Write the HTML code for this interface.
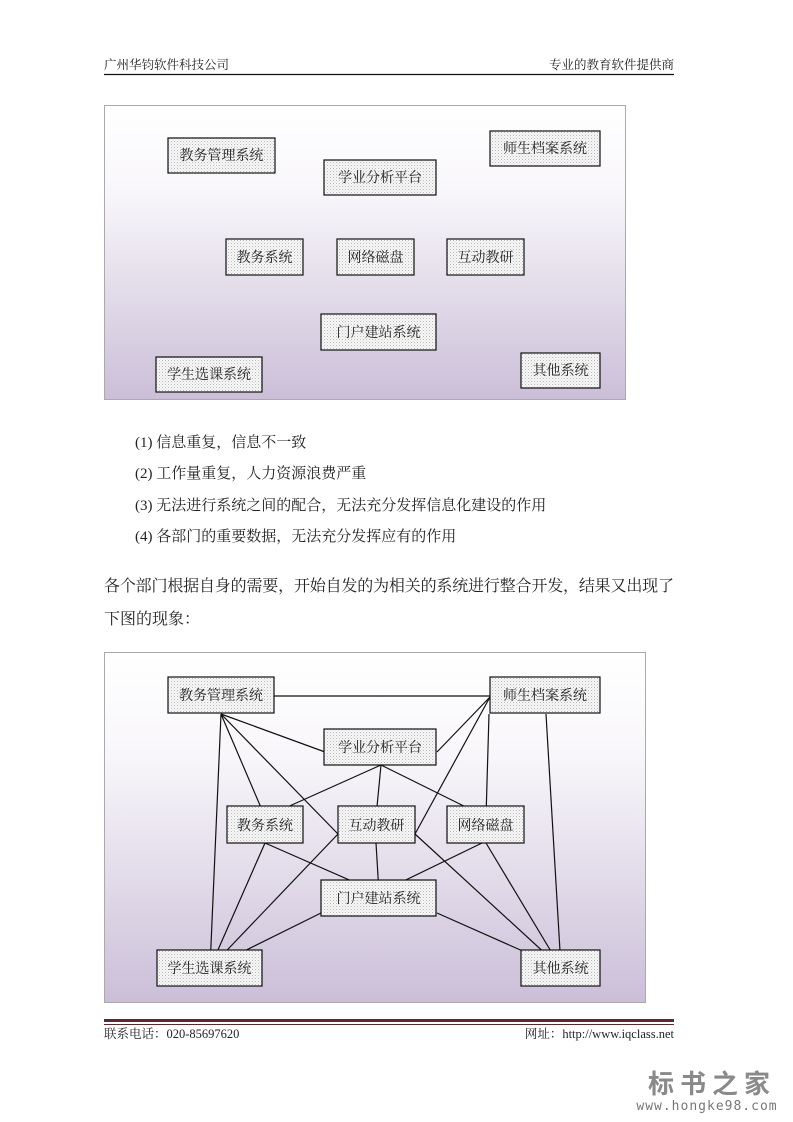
<!DOCTYPE html>
<html><head><meta charset="utf-8">
<style>
html,body{margin:0;padding:0;background:#fff;}
svg{display:block;}
text{font-family:"Liberation Serif","Noto Serif CJK SC","Noto Sans CJK SC",serif;fill:#222;}
</style></head><body>
<svg width="793" height="1122" viewBox="0 0 793 1122" xmlns="http://www.w3.org/2000/svg">
<defs>
<linearGradient id="bg" x1="0" y1="0" x2="0" y2="1">
<stop offset="0" stop-color="#ffffff"/>
<stop offset="0.3" stop-color="#f8f6fa"/>
<stop offset="1" stop-color="#cbbfd8"/>
</linearGradient>
<pattern id="dots" width="3" height="3" patternUnits="userSpaceOnUse">
<rect width="3" height="3" fill="#f8f8f8"/>
<rect x="0" y="0" width="1" height="1" fill="#b8b8b8"/>
<rect x="1.5" y="1.5" width="1" height="1" fill="#cfcfcf"/>
</pattern>
</defs>

<!-- header -->
<text x="104" y="69" font-size="12.5">广州华钧软件科技公司</text>
<text x="674" y="69" font-size="12.5" text-anchor="end">专业的教育软件提供商</text>
<line x1="104" y1="74.5" x2="674" y2="74.5" stroke="#111" stroke-width="1.2"/>

<!-- diagram 1 -->
<rect x="104.5" y="105.5" width="521" height="294" fill="url(#bg)" stroke="#aaa"/>
<g stroke="#111" stroke-width="1.2" fill="url(#dots)">
<rect x="168" y="138" width="107" height="35"/>
<rect x="324" y="160" width="112" height="35"/>
<rect x="490" y="131" width="110" height="35"/>
<rect x="226" y="239" width="77" height="36"/>
<rect x="337" y="239" width="77" height="36"/>
<rect x="447" y="239" width="77" height="36"/>
<rect x="321" y="314" width="115" height="36"/>
<rect x="156" y="357" width="106" height="35"/>
<rect x="521" y="353" width="79" height="35"/>
</g>
<g font-size="14" text-anchor="middle">
<text x="221.5" y="160">教务管理系统</text>
<text x="380" y="182">学业分析平台</text>
<text x="545" y="153">师生档案系统</text>
<text x="264.5" y="262">教务系统</text>
<text x="375.5" y="262">网络磁盘</text>
<text x="485.5" y="262">互动教研</text>
<text x="378.5" y="337">门户建站系统</text>
<text x="209" y="379">学生选课系统</text>
<text x="560.5" y="375">其他系统</text>
</g>

<!-- list -->
<g font-size="15">
<text x="135" y="447">(1) 信息重复，信息不一致</text>
<text x="135" y="478">(2) 工作量重复，人力资源浪费严重</text>
<text x="135" y="510">(3) 无法进行系统之间的配合，无法充分发挥信息化建设的作用</text>
<text x="135" y="541">(4) 各部门的重要数据，无法充分发挥应有的作用</text>
</g>
<g font-size="16">
<text x="104" y="591" textLength="570">各个部门根据自身的需要，开始自发的为相关的系统进行整合开发，结果又出现了</text>
<text x="104" y="624">下图的现象：</text>
</g>

<!-- diagram 2 -->
<rect x="104.5" y="652.5" width="541" height="350" fill="url(#bg)" stroke="#aaa"/>
<g stroke="#111" stroke-width="1.2">
<line x1="274" y1="696" x2="490" y2="696"/>
<line x1="221" y1="714" x2="325" y2="752"/>
<line x1="221" y1="714" x2="265" y2="817"/>
<line x1="221" y1="714" x2="338" y2="834"/>
<line x1="221" y1="714" x2="210" y2="968"/>
<line x1="490" y1="697" x2="437" y2="752"/>
<line x1="490" y1="697" x2="415" y2="834"/>
<line x1="489" y1="714" x2="486" y2="817"/>
<line x1="546" y1="714" x2="561" y2="968"/>
<line x1="381" y1="765" x2="265" y2="817"/>
<line x1="381" y1="765" x2="376" y2="817"/>
<line x1="381" y1="765" x2="486" y2="817"/>
<line x1="265" y1="843" x2="210" y2="968"/>
<line x1="265" y1="843" x2="379" y2="893"/>
<line x1="376" y1="843" x2="379" y2="893"/>
<line x1="338" y1="834" x2="210" y2="968"/>
<line x1="415" y1="834" x2="561" y2="968"/>
<line x1="482" y1="843" x2="379" y2="893"/>
<line x1="486" y1="843" x2="561" y2="968"/>
<line x1="321" y1="913" x2="210" y2="968"/>
<line x1="437" y1="913" x2="561" y2="968"/>
</g>
<g stroke="#111" stroke-width="1.2" fill="url(#dots)">
<rect x="168" y="677" width="106" height="36"/>
<rect x="490" y="677" width="110" height="36"/>
<rect x="324" y="729" width="112" height="36"/>
<rect x="227" y="806" width="76" height="37"/>
<rect x="338" y="806" width="77" height="37"/>
<rect x="447" y="806" width="77" height="37"/>
<rect x="321" y="880" width="115" height="36"/>
<rect x="157" y="950" width="105" height="36"/>
<rect x="521" y="950" width="79" height="36"/>
</g>
<g font-size="14" text-anchor="middle">
<text x="221" y="700">教务管理系统</text>
<text x="545" y="700">师生档案系统</text>
<text x="380" y="752">学业分析平台</text>
<text x="265" y="830">教务系统</text>
<text x="376.5" y="830">互动教研</text>
<text x="485.5" y="830">网络磁盘</text>
<text x="378.5" y="903">门户建站系统</text>
<text x="209.5" y="973">学生选课系统</text>
<text x="560.5" y="973">其他系统</text>
</g>

<!-- footer -->
<rect x="104" y="1019" width="570" height="3" fill="#5a2a2e"/>
<line x1="104" y1="1024.5" x2="674" y2="1024.5" stroke="#5a2a2e" stroke-width="1"/>
<text x="104" y="1038" font-size="12.5">联系电话：020-85697620</text>
<text x="674" y="1038" font-size="12.5" text-anchor="end">网址：http://www.iqclass.net</text>

<!-- watermark -->
<text x="712" y="1093" font-size="26" font-weight="bold" text-anchor="middle" style="fill:#8a8a8a;font-family:'Noto Sans CJK SC',sans-serif" letter-spacing="6">标书之家</text>
<text x="707" y="1110" font-size="13" text-anchor="middle" style="fill:#777;font-family:'DejaVu Sans Mono',monospace" letter-spacing="1">www.hongke98.com</text>
</svg>
</body></html>
